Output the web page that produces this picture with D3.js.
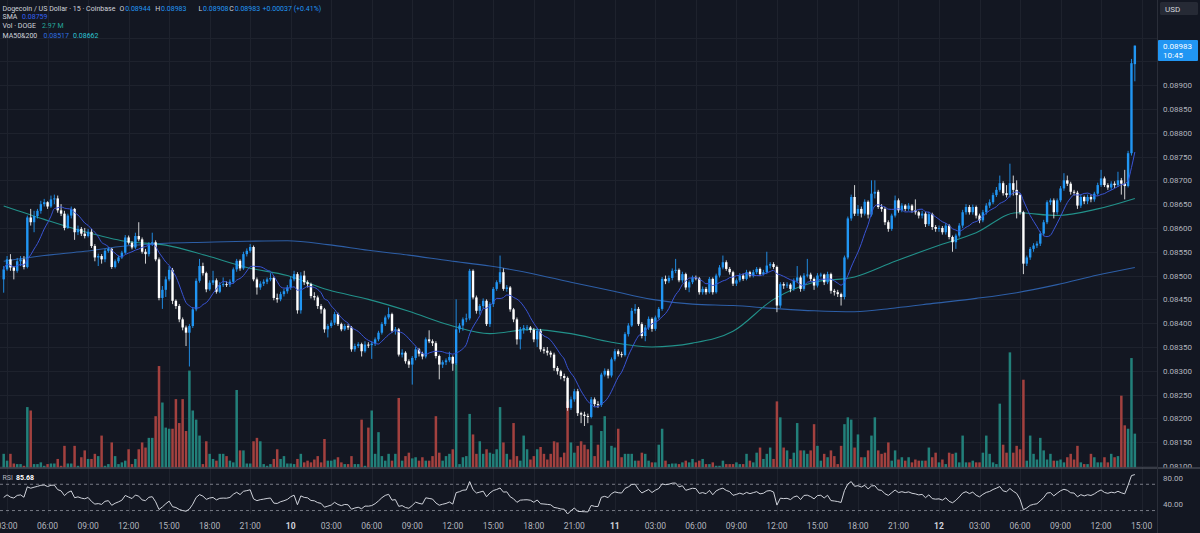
<!DOCTYPE html>
<html><head><meta charset="utf-8"><title>Dogecoin / US Dollar · 15 · Coinbase</title>
<script src="https://cdn.jsdelivr.net/npm/d3@7/dist/d3.min.js"></script>
<style>html,body{margin:0;padding:0;background:#131722;overflow:hidden}svg{display:block}</style>
</head><body>
<svg id="chart" width="1200" height="533"></svg>
<script>
// ---------- DATA (prices in units of 0.00001 USD, volume in millions DOGE) ----------
const PRICE_UNIT = 1e-5;
const firstBarTime = Date.UTC(2023, 7, 9, 2, 45);   // first visible 15-min bar (day 9, 02:45)
const barMinutes = 15;

const open = [
8492,8513,8534,8517,8510,8530,8534,8518,8622,8612,8625,8636,8650,8654,8645,8660,8662,8637,8630,8600,
8626,8640,8591,8598,8588,8583,8592,8562,8538,8541,8534,8552,8556,8518,8530,8538,8548,8580,8569,8559,
8583,8576,8550,8545,8566,8570,8534,8453,8470,8492,8512,8447,8436,8408,8391,8380,8394,8429,8489,8520,
8505,8471,8485,8490,8466,8480,8482,8481,8487,8513,8531,8515,8545,8552,8560,8492,8475,8483,8487,8492,
8495,8453,8450,8461,8467,8475,8492,8503,
8427,8500,8486,8482,8457,8454,8436,8429,8387,8394,8401,8419,8398,8387,8394,8391,8345,8352,8356,8341,
8355,8354,8357,8366,8380,8398,8412,8419,8384,8387,8334,8338,8320,8313,8327,8345,8336,8330,8366,8362,
8358,8331,8313,8318,8322,8329,8315,8387,8395,8408,8410,8510,8454,8426,8436,8447,8398,8440,8472,8486,
8507,8472,8475,8429,8408,8366,8387,8390,8391,8386,8366,8384,8345,8342,8338,8334,8306,8299,8289,8285,
8222,8240,8257,8211,
8208,8205,8203,8240,8230,8228,8292,8300,8290,8324,8341,8335,8333,8377,8395,8426,8430,8398,8373,8391,
8409,8388,8412,8430,8493,8488,8495,8510,8512,8490,8503,8475,8486,8496,8494,8465,8472,8465,8493,8465,
8500,8517,8528,8514,8507,8483,8490,8500,8493,8507,8500,8507,8514,8503,8507,8521,8524,8518,8437,8482,
8479,8481,8472,8489,8496,8472,8500,8502,8493,8479,8500,8502,8486,8503,8468,8465,8461,8455,8538,8620,
8665,8630,8640,8630,8655,8628,8672,
8676,8644,8640,8612,8598,8626,8658,8637,8647,8640,8647,8637,8633,8626,8630,8608,8629,8602,8598,8600,
8591,8605,8581,8570,8584,8605,8633,8644,8633,8644,8626,8616,8633,8647,8654,8669,8680,8694,8673,8669,
8694,8680,8669,8633,8525,8538,8556,8563,8567,8588,8612,8654,8658,8633,8658,8683,8700,8693,8676,8674,
8647,8665,8656,8665,8660,8672,8690,8704,8690,8685,8693,8690,8700,8693,8688,8757,8944];

const high = [
8520,8541,8545,8520,8537,8541,8541,8626,8640,8636,8640,8657,8661,8656,8668,8670,8668,8650,8636,8630,
8645,8642,8605,8602,8600,8598,8598,8566,8546,8545,8556,8560,8558,8534,8542,8552,8585,8584,8572,8590,
8612,8580,8556,8570,8590,8574,8538,8478,8498,8520,8516,8450,8440,8412,8395,8398,8434,8494,8535,8527,
8508,8490,8510,8494,8486,8496,8488,8492,8517,8535,8534,8550,8557,8566,8563,8496,8488,8492,8496,8505,
8498,8462,8466,8472,8480,8498,8510,8507,
8507,8510,8490,8485,8465,8458,8440,8432,8398,8406,8424,8422,8401,8398,8398,8394,8357,8360,8359,8362,
8360,8362,8370,8384,8402,8416,8433,8422,8392,8390,8345,8341,8324,8331,8350,8348,8340,8370,8385,8366,
8362,8334,8322,8326,8340,8332,8450,8400,8412,8420,8514,8513,8458,8440,8452,8450,8444,8476,8490,8542,
8515,8480,8478,8432,8412,8392,8396,8396,8394,8390,8390,8388,8350,8350,8342,8338,8310,8302,8294,8288,
8246,8262,8262,8214,
8214,8210,8245,8244,8236,8296,8305,8304,8328,8346,8345,8340,8381,8400,8432,8440,8434,8402,8396,8414,
8412,8416,8434,8497,8500,8500,8515,8535,8515,8508,8506,8490,8500,8500,8497,8477,8476,8497,8496,8504,
8522,8542,8532,8518,8510,8494,8505,8504,8512,8510,8512,8518,8517,8512,8550,8528,8528,8521,8486,8486,
8486,8484,8494,8520,8500,8505,8535,8506,8496,8505,8506,8504,8508,8506,8472,8470,8464,8542,8624,8670,
8690,8648,8645,8660,8658,8700,8700,
8680,8650,8644,8616,8630,8668,8662,8652,8650,8652,8650,8660,8636,8636,8634,8634,8632,8606,8605,8604,
8610,8608,8584,8588,8610,8638,8650,8648,8649,8647,8630,8638,8652,8660,8674,8686,8710,8698,8690,8735,
8710,8700,8672,8636,8542,8560,8568,8572,8593,8617,8658,8662,8662,8662,8688,8715,8710,8697,8680,8678,
8670,8668,8670,8670,8676,8695,8722,8708,8694,8698,8698,8718,8705,8722,8762,8955,8983];

const low = [
8464,8510,8510,8492,8506,8520,8513,8515,8605,8591,8620,8630,8645,8640,8642,8650,8632,8625,8595,8598,
8620,8575,8585,8583,8578,8580,8558,8530,8520,8525,8528,8548,8514,8515,8526,8535,8545,8565,8555,8556,
8572,8546,8525,8540,8562,8530,8448,8430,8455,8488,8440,8430,8402,8385,8352,8309,8390,8425,8485,8500,
8465,8468,8480,8462,8463,8476,8476,8476,8483,8508,8510,8512,8540,8548,8488,8460,8470,8478,8482,8488,
8448,8443,8446,8456,8462,8470,8488,8420,
8420,8480,8475,8452,8448,8430,8420,8380,8370,8390,8396,8394,8383,8384,8386,8340,8340,8348,8330,8338,
8348,8325,8352,8362,8376,8394,8408,8380,8376,8330,8328,8315,8306,8271,8322,8330,8324,8326,8358,8352,
8326,8282,8306,8312,8318,8300,8312,8380,8384,8402,8406,8450,8420,8418,8430,8394,8392,8434,8468,8482,
8468,8466,8424,8402,8355,8345,8378,8384,8380,8360,8350,8340,8336,8332,8328,8300,8292,8282,8278,8216,
8218,8235,8205,8190,
8184,8190,8200,8225,8222,8224,8288,8284,8286,8320,8330,8328,8330,8372,8392,8420,8394,8368,8362,8386,
8382,8384,8408,8426,8482,8484,8490,8505,8486,8485,8470,8465,8482,8490,8460,8460,8460,8462,8460,8462,
8496,8513,8510,8502,8478,8478,8486,8489,8490,8496,8496,8503,8499,8500,8503,8515,8514,8423,8432,8472,
8474,8465,8468,8484,8466,8468,8496,8488,8470,8475,8496,8480,8482,8462,8458,8455,8437,8450,8534,8615,
8625,8625,8622,8626,8620,8624,8662,
8640,8634,8606,8592,8594,8622,8632,8633,8635,8636,8632,8628,8620,8620,8602,8604,8596,8592,8592,8586,
8586,8576,8550,8556,8580,8600,8628,8628,8628,8620,8610,8612,8628,8642,8650,8665,8676,8668,8664,8664,
8668,8620,8628,8503,8520,8533,8550,8558,8562,8584,8608,8648,8620,8628,8654,8678,8688,8670,8668,8640,
8642,8650,8650,8654,8655,8668,8686,8686,8680,8680,8684,8686,8670,8660,8685,8752,8908];

const close = [
8513,8534,8517,8510,8530,8534,8518,8622,8612,8625,8636,8650,8654,8645,8660,8662,8637,8630,8600,8626,
8640,8591,8598,8588,8583,8592,8562,8538,8541,8534,8552,8556,8518,8530,8538,8548,8580,8569,8559,8583,
8576,8550,8545,8566,8570,8534,8453,8470,8492,8512,8447,8436,8408,8391,8380,8394,8429,8489,8520,8505,
8471,8485,8490,8466,8480,8482,8481,8487,8513,8531,8515,8545,8552,8560,8492,8475,8483,8487,8492,8495,
8453,8450,8461,8467,8475,8492,8503,8427,
8500,8486,8482,8457,8454,8436,8429,8387,8394,8401,8419,8398,8387,8394,8391,8345,8352,8356,8341,8355,
8354,8357,8366,8380,8398,8412,8419,8384,8387,8334,8338,8320,8313,8327,8345,8336,8330,8366,8362,8358,
8331,8313,8318,8322,8329,8315,8387,8395,8408,8410,8510,8454,8426,8436,8447,8398,8440,8472,8486,8507,
8472,8475,8429,8408,8366,8387,8390,8391,8386,8366,8384,8345,8342,8338,8334,8306,8299,8289,8285,8222,
8240,8257,8211,8208,
8205,8203,8240,8230,8228,8292,8300,8290,8324,8341,8335,8333,8377,8395,8426,8430,8398,8373,8391,8409,
8388,8412,8430,8493,8488,8495,8510,8512,8490,8503,8475,8486,8496,8494,8465,8472,8465,8493,8465,8500,
8517,8528,8514,8507,8483,8490,8500,8493,8507,8500,8507,8514,8503,8507,8521,8524,8518,8437,8482,8479,
8481,8472,8489,8496,8472,8500,8502,8493,8479,8500,8502,8486,8503,8468,8465,8461,8455,8538,8620,8665,
8630,8640,8630,8655,8628,8672,8676,
8644,8640,8612,8598,8626,8658,8637,8647,8640,8647,8637,8633,8626,8630,8608,8629,8602,8598,8600,8591,
8605,8581,8570,8584,8605,8633,8644,8633,8644,8626,8616,8633,8647,8654,8669,8680,8694,8673,8669,8694,
8680,8669,8633,8525,8538,8556,8563,8567,8588,8612,8654,8658,8633,8658,8683,8700,8693,8676,8674,8647,
8665,8656,8665,8660,8672,8690,8704,8690,8685,8693,8690,8700,8693,8688,8757,8946,8983];

const volumeM = [
1.2,.6,1.2,.35,.3,.3,.15,5.3,5.0,.3,.3,.45,.15,.3,.35,.35,.75,.15,1.9,.35,
.35,1.9,.15,.9,1.5,.75,.75,1.2,1.0,2.8,.15,.3,2.2,1.0,.3,.45,.6,1.6,.3,.75,
1.6,2.2,1.75,2.6,2.6,4.5,8.9,5.7,3.5,3.4,3.4,6.0,3.9,6.0,3.2,8.5,5.0,4.2,2.8,.3,
2.3,1.2,.75,.6,1.2,1.2,1.0,.6,.45,6.8,1.5,1.5,.35,.35,2.3,2.6,2.3,.3,.15,.3,
.75,1.6,.75,1.0,.35,.35,.3,.75,
1.2,.45,.6,.45,.7,1.0,.45,2.5,.6,.6,.7,.9,.45,.3,.3,1.0,.3,.3,4.2,.15,
3.5,5.0,1.2,3.1,1.0,.6,1.2,.6,1.2,6.1,.6,1.0,1.3,.8,.9,.6,.9,.6,.6,1.0,
4.5,1.3,.6,1.0,1.2,1.6,9.1,.3,.9,1.0,4.7,2.9,1.2,2.3,1.2,1.6,1.3,1.2,1.6,5.3,
2.2,1.2,.7,3.9,1.0,.6,2.8,1.6,.7,1.0,1.6,1.8,1.2,.7,1.2,2.3,2.2,.9,1.3,5.8,
2.2,1.3,1.9,2.3,
2.0,1.6,3.7,1.0,2.0,3.2,4.5,.6,1.9,1.75,3.4,.9,1.2,1.2,1.2,.6,.6,1.3,1.2,.6,
.45,.45,2.0,3.4,.6,.3,.35,.35,.3,.45,.6,.45,.75,.45,.6,.75,.3,.3,.45,.15,
.15,.6,.3,.3,.3,.45,.3,.3,1.2,.6,.45,1.3,1.75,.75,1.2,1.75,.75,5.8,4.4,1.75,
1.5,.75,1.3,3.9,1.5,1.5,1.2,1.5,3.8,1.9,.6,1.2,.9,1.5,1.0,.3,1.9,3.8,4.4,4.2,
1.75,2.9,.9,.9,1.5,2.8,4.4,
1.5,1.2,1.3,2.2,.6,1.5,.7,.9,.6,.9,.45,.7,.6,.6,.6,1.75,.9,1.3,.45,.7,
.3,1.3,1.2,1.3,.45,2.8,.45,.45,.6,.45,.45,1.3,2.8,1.2,.45,.3,5.6,2.0,1.3,10.1,
1.3,1.9,1.6,7.7,.6,2.8,1.2,.7,2.6,1.5,.7,1.2,.6,.6,.7,.45,.9,1.2,.7,1.9,
.45,.3,.3,1.2,.9,.45,.45,.9,.45,1.2,.9,1.0,6.3,3.7,3.4,9.6,2.97];

// moving averages (bar index -> value)
const maSampleIndex = [0,12,24,36,48,60,72,84,96,108,120,132,144,156,168,180,192,204,216,228,240,252,264,276,288,300,312,324,335];
const ma50  = [8646,8618,8592,8572,8564,8542,8517,8500,8470,8450,8425,8396,8378,8387,8378,8360,8350,8358,8383,8450,8486,8497,8530,8561,8590,8632,8626,8640,8662];
const ma200 = [8530,8542,8551,8562,8568,8570,8572,8573,8565,8553,8543,8531,8520,8505,8486,8468,8450,8440,8437,8431,8426,8424,8432,8442,8452,8464,8481,8501,8517];

const priceTicks = [0.0810,0.0815,0.0820,0.0825,0.0830,0.0835,0.0840,0.0845,0.0850,0.0855,0.0860,0.0865,0.0870,0.0875,0.0880,0.0885,0.0890,0.0895,0.0900];
const rsiTicks = [80, 40];
const rsiBands = [70, 30];
const rsiLastLabel = '85.68';
const countdownLabel = '10:45';
const SMA_LENGTH = 9, RSI_LENGTH = 14;

// ---------- LAYOUT ----------
const W = 1200, H = 533;
const PANE_RIGHT = 1157, MAIN_BOTTOM = 467.5, RSI_TOP = 468.5, RSI_BOTTOM = 514;
const FONT = 'Roboto, "Noto Sans", "DejaVu Sans", sans-serif';
const UP = '#2196f3', DOWN = '#ffffff';

const svg = d3.select('#chart').attr('font-family', FONT);
svg.append('rect').attr('width', W).attr('height', H).attr('fill', '#131722');

const defs = svg.append('defs');
defs.append('clipPath').attr('id', 'clipMain').append('rect').attr('x', 0).attr('y', 0).attr('width', PANE_RIGHT).attr('height', MAIN_BOTTOM);
defs.append('clipPath').attr('id', 'clipRsi').append('rect').attr('x', 0).attr('y', RSI_TOP).attr('width', PANE_RIGHT).attr('height', RSI_BOTTOM - RSI_TOP);
defs.append('clipPath').attr('id', 'clipAxis').append('rect').attr('x', PANE_RIGHT).attr('y', 0).attr('width', W - PANE_RIGHT).attr('height', MAIN_BOTTOM);

const n = close.length;
const barTime = d3.range(n).map(i => new Date(firstBarTime + i * barMinutes * 60000));

const x = d3.scaleUtc()
  .domain([new Date(Date.UTC(2023, 7, 10, 0, 0)), new Date(Date.UTC(2023, 7, 12, 15, 0))])
  .range([290.7, 1141.6]);
const y = d3.scaleLinear().domain([0.081, 0.090]).range([466, 37.5]);
const yv = d3.scaleLinear().domain([0, 12]).range([MAIN_BOTTOM, MAIN_BOTTOM - 136.8]);
const yr = d3.scaleLinear().domain([40, 80]).range([504, 477.7]);
const P = v => v * PRICE_UNIT;

// ---------- GRID ----------
const timeTicks = d3.utcHour.every(3).range(new Date(Date.UTC(2023, 7, 9, 3)), new Date(Date.UTC(2023, 7, 12, 15, 1)));
const grid = svg.append('g').attr('stroke', '#1e222d').attr('stroke-width', 1);
grid.selectAll('line.v').data(timeTicks).join('line')
  .attr('x1', d => Math.round(x(d)) + 0.5).attr('x2', d => Math.round(x(d)) + 0.5)
  .attr('y1', 0).attr('y2', RSI_BOTTOM);
grid.selectAll('line.h').data(priceTicks).join('line')
  .attr('x1', 0).attr('x2', PANE_RIGHT)
  .attr('y1', d => Math.round(y(d)) + 0.5).attr('y2', d => Math.round(y(d)) + 0.5);

// ---------- MAIN PANE ----------
const main = svg.append('g').attr('clip-path', 'url(#clipMain)');
const idx = d3.range(n);

// volume
main.append('g').selectAll('rect').data(idx).join('rect')
  .attr('x', i => x(barTime[i]) - 1.25).attr('width', 2.5)
  .attr('y', i => yv(volumeM[i])).attr('height', i => MAIN_BOTTOM - yv(volumeM[i]))
  .attr('fill', i => close[i] >= open[i] ? '#22807a' : '#a3413f');

// MA 50 / 200
const maLine = vals => d3.line()
  .x((d, k) => x(barTime[maSampleIndex[k]]))
  .y(d => y(P(d)))
  .curve(d3.curveMonotoneX)(vals);
main.append('path').attr('d', maLine(ma200)).attr('fill', 'none').attr('stroke', '#2d5ea6').attr('stroke-width', 1.1);
main.append('path').attr('d', maLine(ma50)).attr('fill', 'none').attr('stroke', '#22918a').attr('stroke-width', 1.1);

// candles
const candles = main.append('g');
candles.selectAll('line').data(idx).join('line')
  .attr('x1', i => x(barTime[i])).attr('x2', i => x(barTime[i]))
  .attr('y1', i => y(P(high[i]))).attr('y2', i => y(P(low[i])))
  .attr('stroke', i => close[i] >= open[i] ? UP : '#e8e8e8').attr('stroke-width', 0.9);
candles.selectAll('rect').data(idx).join('rect')
  .attr('x', i => x(barTime[i]) - 1.2).attr('width', 2.4)
  .attr('y', i => y(P(Math.max(open[i], close[i]))))
  .attr('height', i => Math.max(1, Math.abs(y(P(open[i])) - y(P(close[i])))))
  .attr('fill', i => close[i] >= open[i] ? UP : DOWN);

// SMA (9) computed from closes
const sma = idx.map(i => d3.mean(close.slice(Math.max(0, i - SMA_LENGTH + 1), i + 1)));
main.append('path')
  .attr('d', d3.line().x((d, i) => x(barTime[i])).y(d => y(P(d))).curve(d3.curveMonotoneX)(sma))
  .attr('fill', 'none').attr('stroke', '#3a55d6').attr('stroke-width', 1);

// ---------- RSI PANE ----------
const rsi = [];
{
  let s = 0;
  for (let i = 1; i <= RSI_LENGTH; i++) s += Math.abs(close[i] - close[i - 1]);
  let ag = s / RSI_LENGTH / 2, al = ag;
  rsi.push(50);
  for (let i = 1; i < n; i++) {
    const ch = close[i] - close[i - 1];
    ag = (ag * (RSI_LENGTH - 1) + Math.max(ch, 0)) / RSI_LENGTH;
    al = (al * (RSI_LENGTH - 1) + Math.max(-ch, 0)) / RSI_LENGTH;
    rsi.push(al === 0 ? 100 : 100 - 100 / (1 + ag / al));
  }
}
const rsiG = svg.append('g').attr('clip-path', 'url(#clipRsi)');
rsiG.selectAll('line').data(rsiBands).join('line')
  .attr('x1', 0).attr('x2', PANE_RIGHT).attr('y1', d => yr(d)).attr('y2', d => yr(d))
  .attr('stroke', '#787b86').attr('stroke-width', 1).attr('stroke-dasharray', '3,3');
rsiG.append('path')
  .attr('d', d3.line().x((d, i) => x(barTime[i])).y(d => yr(d))(rsi))
  .attr('fill', 'none').attr('stroke', '#cfd2da').attr('stroke-width', 1);

// ---------- SEPARATORS ----------
svg.append('line').attr('x1', 0).attr('x2', W).attr('y1', 468).attr('y2', 468).attr('stroke', '#5d606b').attr('stroke-width', 1);
svg.append('line').attr('x1', PANE_RIGHT + 0.5).attr('x2', PANE_RIGHT + 0.5).attr('y1', 0).attr('y2', H).attr('stroke', '#2a2e39').attr('stroke-width', 1);

// ---------- PRICE AXIS ----------
const fmtP = d3.format('.5f');
const last = n - 1;
const badgeTop = 40, badgeH = 21;
// the tick hidden behind the last-price badge is not drawn
const visibleTicks = priceTicks.filter(d => y(d) + 3 < badgeTop || y(d) - 3 > badgeTop + badgeH);
svg.append('g').attr('clip-path', 'url(#clipAxis)')
  .selectAll('text').data(visibleTicks).join('text')
  .attr('x', 1163).attr('y', d => y(d) + 3)
  .attr('font-size', 8).attr('fill', '#b2b5be').text(fmtP);
svg.selectAll('text.rsiTick').data(rsiTicks).join('text').attr('class', 'rsiTick')
  .attr('x', 1163).attr('y', d => yr(d) + 3)
  .attr('font-size', 8).attr('fill', '#b2b5be').text(d => d3.format('.2f')(d));

// USD box
svg.append('rect').attr('x', 1160).attr('y', 2).attr('width', 38).attr('height', 13).attr('rx', 1.5).attr('fill', '#262a35');
svg.append('text').attr('x', 1165).attr('y', 11.5).attr('font-size', 8).attr('fill', '#d1d4dc').text('USD');

// last price badge
svg.append('rect').attr('x', 1158).attr('y', badgeTop).attr('width', 40).attr('height', badgeH).attr('rx', 1).attr('fill', UP);
svg.append('text').attr('x', 1163).attr('y', 48.5).attr('font-size', 8).attr('fill', '#ffffff').text(fmtP(P(close[last])));
svg.append('text').attr('x', 1163).attr('y', 57.5).attr('font-size', 8).attr('fill', '#ffffff').text(countdownLabel);

// ---------- TIME AXIS ----------
const fmtT = d3.utcFormat('%H:%M'), fmtD = d3.utcFormat('%-d');
svg.selectAll('text.tt').data(timeTicks).join('text').attr('class', 'tt')
  .attr('x', d => x(d)).attr('y', 529).attr('text-anchor', 'middle')
  .attr('font-size', 8.5)
  .attr('font-weight', d => d.getUTCHours() === 0 ? 700 : 400)
  .attr('fill', d => d.getUTCHours() === 0 ? '#d1d4dc' : '#b2b5be')
  .text(d => d.getUTCHours() === 0 ? fmtD(d) : fmtT(d));

// ---------- LEGEND ----------
const chg = close[last] - close[last - 1];
svg.append('text').attr('x', 2.5).attr('y', 10.7).attr('font-size', 7).attr('fill', '#d1d4dc')
  .attr('textLength', 113).attr('lengthAdjust', 'spacingAndGlyphs')
  .text('Dogecoin / US Dollar · 15 · Coinbase');
const L1 = svg.append('text').attr('y', 10.7).attr('font-size', 7).attr('fill', '#d1d4dc');
[['O', open[last], 119.5], ['H', high[last], 155.2], ['L', low[last], 198.5], ['C', close[last], 229.3]].forEach(([k, v, px]) => {
  L1.append('tspan').attr('x', px).text(k);
  L1.append('tspan').attr('dx', 0.8).attr('fill', UP).text(fmtP(P(v)));
});
L1.append('tspan').attr('x', 262.5).attr('fill', UP)
  .text('+' + fmtP(P(chg)) + ' (+' + d3.format('.2f')(chg / close[last - 1] * 100) + '%)');

const L2 = svg.append('text').attr('y', 19.3).attr('font-size', 7).attr('fill', '#d1d4dc');
L2.append('tspan').attr('x', 2.5).text('SMA');
L2.append('tspan').attr('x', 22).attr('fill', '#3461f0').text(fmtP(P(sma[last])));

const L3 = svg.append('text').attr('y', 28.4).attr('font-size', 7).attr('fill', '#d1d4dc');
L3.append('tspan').attr('x', 2.5).text('Vol · DOGE');
L3.append('tspan').attr('x', 42).attr('fill', '#26a69a').text(d3.format('.2f')(volumeM[last]) + ' M');

const L4 = svg.append('text').attr('y', 37.7).attr('font-size', 7).attr('fill', '#d1d4dc');
L4.append('tspan').attr('x', 2.5).text('MA50&200');
L4.append('tspan').attr('x', 43.5).attr('fill', '#2f6fe0').text(fmtP(P(ma200[ma200.length - 1])));
L4.append('tspan').attr('x', 73).attr('fill', '#2ec4d4').text(fmtP(P(ma50[ma50.length - 1])));

const L5 = svg.append('text').attr('y', 480.3).attr('font-size', 7).attr('fill', '#b2b5be');
L5.append('tspan').attr('x', 2.5).text('RSI');
L5.append('tspan').attr('x', 16).attr('fill', '#ffffff').attr('font-weight', 700).text(rsiLastLabel);
</script>
</body></html>
